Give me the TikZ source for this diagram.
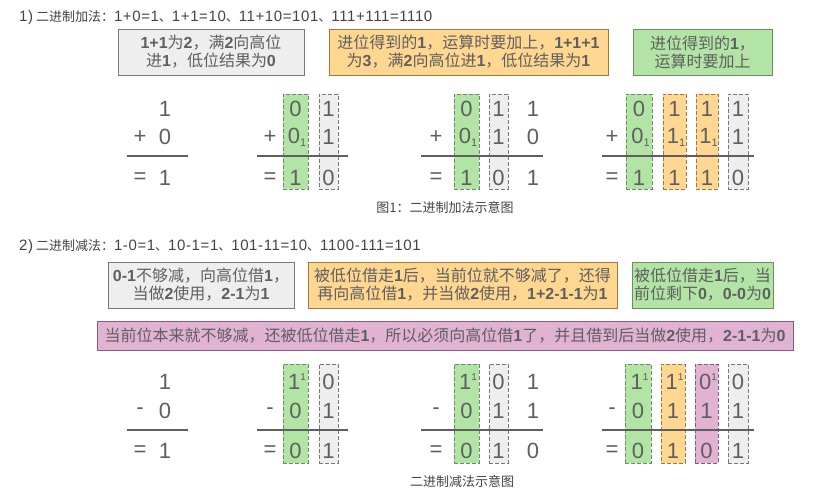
\documentclass[tikz,border=0pt]{standalone}
\usepackage{fontspec}
\setmainfont{Noto Sans CJK SC}
\newfontfamily\lsans{Liberation Sans}
\newfontfamily\tlsans{Liberation Sans}[LetterSpace=4]
\definecolor{gfill}{RGB}{178,228,166}
\definecolor{ofill}{RGB}{255,215,145}
\definecolor{pfill}{RGB}{226,178,210}
\definecolor{kfill}{RGB}{238,238,238}
\definecolor{gline}{RGB}{110,140,100}
\definecolor{oline}{RGB}{160,120,60}
\definecolor{pline}{RGB}{130,95,120}
\definecolor{kline}{RGB}{120,120,120}
\definecolor{txt}{RGB}{68,68,68}
\definecolor{dtxt}{RGB}{95,95,95}
\newcommand\bn[1]{{\lsans\bfseries #1}}
\newcommand\tn[1]{{\tlsans\fontsize{15}{15}\selectfont #1}}
\newcommand\sbs[1]{\raisebox{-3pt}{\fontsize{11}{11}\selectfont #1}}
\newcommand\sps[1]{\raisebox{9pt}{\fontsize{10}{10}\selectfont #1}}
\tikzset{
  titletext/.style={anchor=west, inner sep=0pt, text=txt, font=\fontsize{13}{15}\selectfont},
  captext/.style={inner sep=0pt, text=txt, font=\fontsize{13}{15}\selectfont},
  note/.style={draw, line width=0.8pt, inner sep=0pt, minimum height=46pt, align=center, text=dtxt, font=\fontsize{16}{18}\selectfont},
  colbox/.style={draw, dashed, dash pattern=on 4pt off 2pt, line width=0.7pt, inner sep=0pt},
  gcol/.style={colbox, fill=gfill, draw=gline},
  ocol/.style={colbox, fill=ofill, draw=oline},
  pcol/.style={colbox, fill=pfill, draw=pline},
  kcol/.style={colbox, fill=kfill, draw=kline},
  dig/.style={inner sep=0pt, text=dtxt, font=\lsans\fontsize{22}{22}\selectfont},
  rule/.style={line width=2pt, draw=dtxt},
}
\begin{document}
\begin{tikzpicture}[x=1pt,y=-1pt]
\useasboundingbox (0,0) rectangle (823,495);
\fill[white] (0,0) rectangle (823,495);

% ---------- addition ----------
\node[titletext] (t1) at (19,18) {\tn{1)} 二进制加法：\tn{1+0=1}、\tn{1+1=10}、\tn{11+10=101}、\tn{111+111=1110}};
\node[note, fill=kfill, draw=kline, minimum width=186pt] (n1) at (211,52) {\bn{1+1}为\bn{2}，满\bn{2}向高位\\进\bn{1}，低位结果为\bn{0}};
\node[note, fill=ofill, draw=oline, minimum width=279pt] (n2) at (468.5,52) {进位得到的\bn{1}，运算时要加上，\bn{1+1+1}\\为\bn{3}，满\bn{2}向高位进\bn{1}，低位结果为\bn{1}};
\node[note, fill=gfill, draw=gline, minimum width=139pt] (n3) at (702.5,52) {进位得到的\bn{1}，\\运算时要加上};

% columns
\node[gcol, minimum width=25pt, minimum height=95pt] (a2g) at (295.5,141.5) {};
\node[kcol, minimum width=19pt, minimum height=95pt] (a2k) at (328.5,141.5) {};
\node[gcol, minimum width=25pt, minimum height=95pt] (a3g) at (466.5,141.5) {};
\node[kcol, minimum width=19pt, minimum height=95pt] (a3k) at (498.5,141.5) {};
\node[gcol, minimum width=26pt, minimum height=95pt] (a4g) at (639,141.5) {};
\node[ocol, minimum width=23pt, minimum height=95pt] (a4o) at (674.5,141.5) {};
\node[ocol, minimum width=22pt, minimum height=95pt] (a4p) at (707,141.5) {};
\node[kcol, minimum width=20pt, minimum height=95pt] (a4k) at (738,141.5) {};

% group 1
\node[dig] (a1a) at (165,109) {1};
\node[dig] (a1op) at (140,137) {+};
\node[dig] (a1b) at (165,137) {0};
\node[dig] (a1eq) at (140,178) {=};
\node[dig] (a1c) at (165,178) {1};
\draw[rule] (127,156) -- (188,156);
% group 2
\node[dig] (a2a1) at (295.5,109) {0};
\node[dig] (a2a2) at (328.5,109) {1};
\node[dig] (a2op) at (270,137) {+};
\node[dig] (a2b1) at (297,137) {0\sbs{1}};
\node[dig] (a2b2) at (328.5,137) {1};
\node[dig] (a2eq) at (270,178) {=};
\node[dig] (a2c1) at (295.5,178) {1};
\node[dig] (a2c2) at (328.5,178) {0};
\draw[rule] (257,156) -- (348,156);
% group 3
\node[dig] (a3a1) at (466.5,109) {0};
\node[dig] (a3a2) at (498.5,109) {1};
\node[dig] (a3a3) at (533,109) {1};
\node[dig] (a3op) at (436,137) {+};
\node[dig] (a3b1) at (468,137) {0\sbs{1}};
\node[dig] (a3b2) at (498.5,137) {1};
\node[dig] (a3b3) at (533,137) {0};
\node[dig] (a3eq) at (436,178) {=};
\node[dig] (a3c1) at (466.5,178) {1};
\node[dig] (a3c2) at (498.5,178) {0};
\node[dig] (a3c3) at (533,178) {1};
\draw[rule] (421,156) -- (543,156);
% group 4
\node[dig] (a4a1) at (639,109) {0};
\node[dig] (a4a2) at (674.5,109) {1};
\node[dig] (a4a3) at (707,109) {1};
\node[dig] (a4a4) at (738,109) {1};
\node[dig] (a4op) at (612,137) {+};
\node[dig] (a4b1) at (640.5,137) {0\sbs{1}};
\node[dig] (a4b2) at (676,137) {1\sbs{1}};
\node[dig] (a4b3) at (708.5,137) {1\sbs{1}};
\node[dig] (a4b4) at (738,137) {1};
\node[dig] (a4eq) at (612,178) {=};
\node[dig] (a4c1) at (639,178) {1};
\node[dig] (a4c2) at (674.5,178) {1};
\node[dig] (a4c3) at (707,178) {1};
\node[dig] (a4c4) at (738,178) {0};
\draw[rule] (602,156) -- (754,156);

\node[captext] (c1) at (445,208) {图1：二进制加法示意图};

% ---------- subtraction ----------
\node[titletext] (t2) at (19,247) {\tn{2)} 二进制减法：\tn{1-0=1}、\tn{10-1=1}、\tn{101-11=10}、\tn{1100-111=101}};
\node[note, fill=kfill, draw=kline, minimum width=186pt] (m1) at (201,285) {\bn{0-1}不够减，向高位借\bn{1}，\\当做\bn{2}使用，\bn{2-1}为\bn{1}};
\node[note, fill=ofill, draw=oline, minimum width=309pt] (m2) at (462.5,285) {被低位借走\bn{1}后，当前位就不够减了，还得\\再向高位借\bn{1}，并当做\bn{2}使用，\bn{1+2-1-1}为\bn{1}};
\node[note, fill=gfill, draw=gline, minimum width=141pt] (m3) at (702.5,285) {被低位借走\bn{1}后，当\\前位剩下\bn{0}，\bn{0-0}为\bn{0}};
\node[note, fill=pfill, draw=pline, minimum width=696pt, minimum height=29pt] (m4) at (445,335.5) {当前位本来就不够减，还被低位借走\bn{1}，所以必须向高位借\bn{1}了，并且借到后当做\bn{2}使用，\bn{2-1-1}为\bn{0}};

\node[gcol, minimum width=25pt, minimum height=99pt] (s2g) at (295.5,413.5) {};
\node[kcol, minimum width=19pt, minimum height=99pt] (s2k) at (328.5,413.5) {};
\node[gcol, minimum width=25pt, minimum height=99pt] (s3g) at (466.5,413.5) {};
\node[kcol, minimum width=19pt, minimum height=99pt] (s3k) at (498.5,413.5) {};
\node[gcol, minimum width=26pt, minimum height=99pt] (s4g) at (638,413.5) {};
\node[ocol, minimum width=24pt, minimum height=99pt] (s4o) at (673,413.5) {};
\node[pcol, minimum width=23pt, minimum height=99pt] (s4p) at (706.5,413.5) {};
\node[kcol, minimum width=20pt, minimum height=99pt] (s4k) at (738,413.5) {};

% group 1
\node[dig] (s1a) at (165,382) {1};
\node[dig] (s1op) at (140,411) {-};
\node[dig] (s1b) at (165,411) {0};
\node[dig] (s1eq) at (140,451) {=};
\node[dig] (s1c) at (165,451) {1};
\draw[rule] (127,430) -- (188,430);
% group 2
\node[dig] (s2a1) at (297,382) {1\sps{1}};
\node[dig] (s2a2) at (328.5,382) {0};
\node[dig] (s2op) at (270,411) {-};
\node[dig] (s2b1) at (295.5,411) {0};
\node[dig] (s2b2) at (328.5,411) {1};
\node[dig] (s2eq) at (270,451) {=};
\node[dig] (s2c1) at (295.5,451) {0};
\node[dig] (s2c2) at (328.5,451) {1};
\draw[rule] (257,430) -- (348,430);
% group 3
\node[dig] (s3a1) at (468,382) {1\sps{1}};
\node[dig] (s3a2) at (498.5,382) {0};
\node[dig] (s3a3) at (533,382) {1};
\node[dig] (s3op) at (436,411) {-};
\node[dig] (s3b1) at (466.5,411) {0};
\node[dig] (s3b2) at (498.5,411) {1};
\node[dig] (s3b3) at (533,411) {1};
\node[dig] (s3eq) at (436,451) {=};
\node[dig] (s3c1) at (466.5,451) {0};
\node[dig] (s3c2) at (498.5,451) {1};
\node[dig] (s3c3) at (533,451) {0};
\draw[rule] (421,430) -- (543,430);
% group 4
\node[dig] (s4a1) at (639.5,382) {1\sps{1}};
\node[dig] (s4a2) at (674.5,382) {1\sps{1}};
\node[dig] (s4a3) at (708,382) {0\sps{1}};
\node[dig] (s4a4) at (738,382) {0};
\node[dig] (s4op) at (612,411) {-};
\node[dig] (s4b1) at (638,411) {0};
\node[dig] (s4b2) at (673,411) {1};
\node[dig] (s4b3) at (706.5,411) {1};
\node[dig] (s4b4) at (738,411) {1};
\node[dig] (s4eq) at (612,451) {=};
\node[dig] (s4c1) at (638,451) {0};
\node[dig] (s4c2) at (673,451) {1};
\node[dig] (s4c3) at (706.5,451) {0};
\node[dig] (s4c4) at (738,451) {1};
\draw[rule] (602,430) -- (754,430);

\node[captext] (c2) at (462,482) {二进制减法示意图};
\end{tikzpicture}
\end{document}
